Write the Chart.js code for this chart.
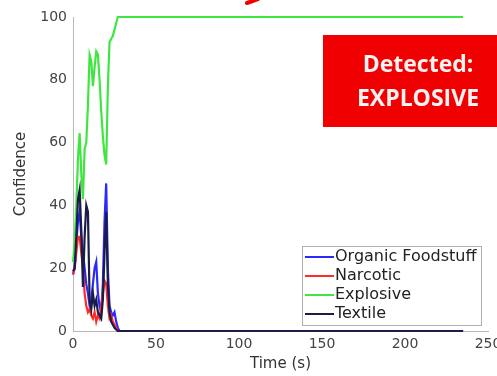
<!DOCTYPE html>
<html>
<head>
<meta charset="utf-8">
<script src="https://cdn.jsdelivr.net/npm/chart.js@4.4.1/dist/chart.umd.min.js"></script>
<style>
html,body{margin:0;padding:0;background:#fff;overflow:hidden;}
#wrap{position:relative;width:520px;height:376px;}
</style>
</head>
<body>
<div id="wrap"><canvas id="c"></canvas></div>
<script>
// Time (s)
const times = [0,1,2,3,4,5,6,7,8,9,10,11,12,13,14,15,16,17,18,19,20,21,22,23,24,25,26,27,28,29,30,50,100,150,200,235];
const organicFoodstuff = [18,20,28,35,38,30,25,20,15,12,8,10,15,20,22,12,8,6,15,35,47,20,8,6,5,6,3,1,0,0,0,0,0,0,0,0];
const narcotic = [18,20,25,30,30,25,20,12,8,6,7,5,4,6,3,5,4,8,12,16,15,8,4,5,3,2,1,0,0,0,0,0,0,0,0,0];
const explosive = [22,28,40,55,63,50,42,58,60,72,88,86,78,84,89,88,80,70,62,56,53,78,92,93,94,96,98,100,100,100,100,100,100,100,100,100];
const textile = [19,20,30,42,45,32,14,30,40,38,10,7,12,8,10,6,5,4,10,25,38,15,6,3,2,1,0.5,0,0,0,0,0,0,0,0,0];
const seriesNames = ['Organic Foodstuff','Narcotic','Explosive','Textile'];
const xTicks = [0,50,100,150,200,250];
const yTicks = [0,20,40,60,80,100];
const bannerLines = ['Detected:','EXPLOSIVE'];

const colors = ['#2a2aff','#ff2a2a','#40e640','#1c1c48'];
const seriesValues = [organicFoodstuff, narcotic, explosive, textile];

const datasets = seriesValues.map((vals, i) => ({
  label: seriesNames[i],
  data: vals.map((v, k) => ({x: times[k], y: v})),
  borderColor: colors[i],
  backgroundColor: colors[i],
  borderWidth: 2.2,
  pointRadius: 0,
  tension: 0,
  clip: 5,
  order: 4 - i
}));

const legendPlugin = {
  id: 'boxLegend',
  afterDatasetsDraw(chart) {
    const ctx = chart.ctx;
    const x0 = 302, y0 = 246, w = 179, h = 79;
    ctx.save();
    ctx.fillStyle = '#fff';
    ctx.fillRect(x0, y0, w, h);
    ctx.strokeStyle = '#b0b0b0';
    ctx.lineWidth = 1;
    ctx.strokeRect(x0 + 0.5, y0 + 0.5, w, h);
    ctx.font = '16px "DejaVu Sans"';
    ctx.textBaseline = 'middle';
    chart.data.datasets.forEach((ds, i) => {
      const yy = 257 + i * 19;
      ctx.strokeStyle = ds.borderColor;
      ctx.lineWidth = 2;
      ctx.beginPath();
      ctx.moveTo(305, yy);
      ctx.lineTo(334, yy);
      ctx.stroke();
      ctx.fillStyle = '#222';
      ctx.fillText(ds.label, 335, yy);
    });
    ctx.restore();
  }
};

const bannerPlugin = {
  id: 'banner',
  afterDraw(chart) {
    const ctx = chart.ctx;
    ctx.save();
    ctx.fillStyle = '#f00000';
    ctx.fillRect(323, 35, 200, 92);
    ctx.fillStyle = '#fff2f2';
    ctx.font = 'bold 23px "Open Sans"';
    ctx.textAlign = 'center';
    ctx.textBaseline = 'middle';
    ctx.fillText(bannerLines[0], 418, 65);
    ctx.fillText(bannerLines[1], 418, 99);
    // arrow fragment at the top
    ctx.strokeStyle = '#f00000';
    ctx.lineWidth = 4;
    ctx.lineCap = 'round';
    ctx.beginPath();
    ctx.moveTo(258, -1);
    ctx.lineTo(247, 3);
    ctx.stroke();
    ctx.restore();
  }
};

new Chart(document.getElementById('c'), {
  type: 'line',
  data: { datasets },
  options: {
    responsive: true,
    maintainAspectRatio: false,
    animation: false,
    layout: { padding: { top: 17, right: 32, bottom: 0, left: 0 } },
    plugins: { legend: { display: false }, tooltip: { enabled: false } },
    scales: {
      x: {
        type: 'linear',
        min: 0, max: 250,
        afterBuildTicks: s => { s.ticks = xTicks.map(v => ({value: v})); },
        afterFit: s => { s.height = 45; },
        grid: { display: false, drawTicks: false },
        border: { display: true, color: '#b8b8b8', width: 1 },
        ticks: { color: '#444', font: { family: 'DejaVu Sans', size: 14 }, padding: 5, maxRotation: 0 },
        title: { display: true, text: 'Time (s)', color: '#333', font: { family: 'DejaVu Sans', size: 15 }, padding: { top: 0, bottom: 3 } }
      },
      y: {
        min: 0, max: 100,
        afterBuildTicks: s => { s.ticks = yTicks.map(v => ({value: v})); },
        afterFit: s => { s.width = 73; },
        grid: { display: false, drawTicks: false },
        border: { display: true, color: '#b8b8b8', width: 1 },
        ticks: { color: '#444', font: { family: 'DejaVu Sans', size: 14 }, padding: 6 },
        title: { display: true, text: 'Confidence', color: '#333', font: { family: 'DejaVu Sans', size: 15 }, padding: { top: 12, bottom: 0 } }
      }
    }
  },
  plugins: [legendPlugin, bannerPlugin]
});
</script>
</body>
</html>
